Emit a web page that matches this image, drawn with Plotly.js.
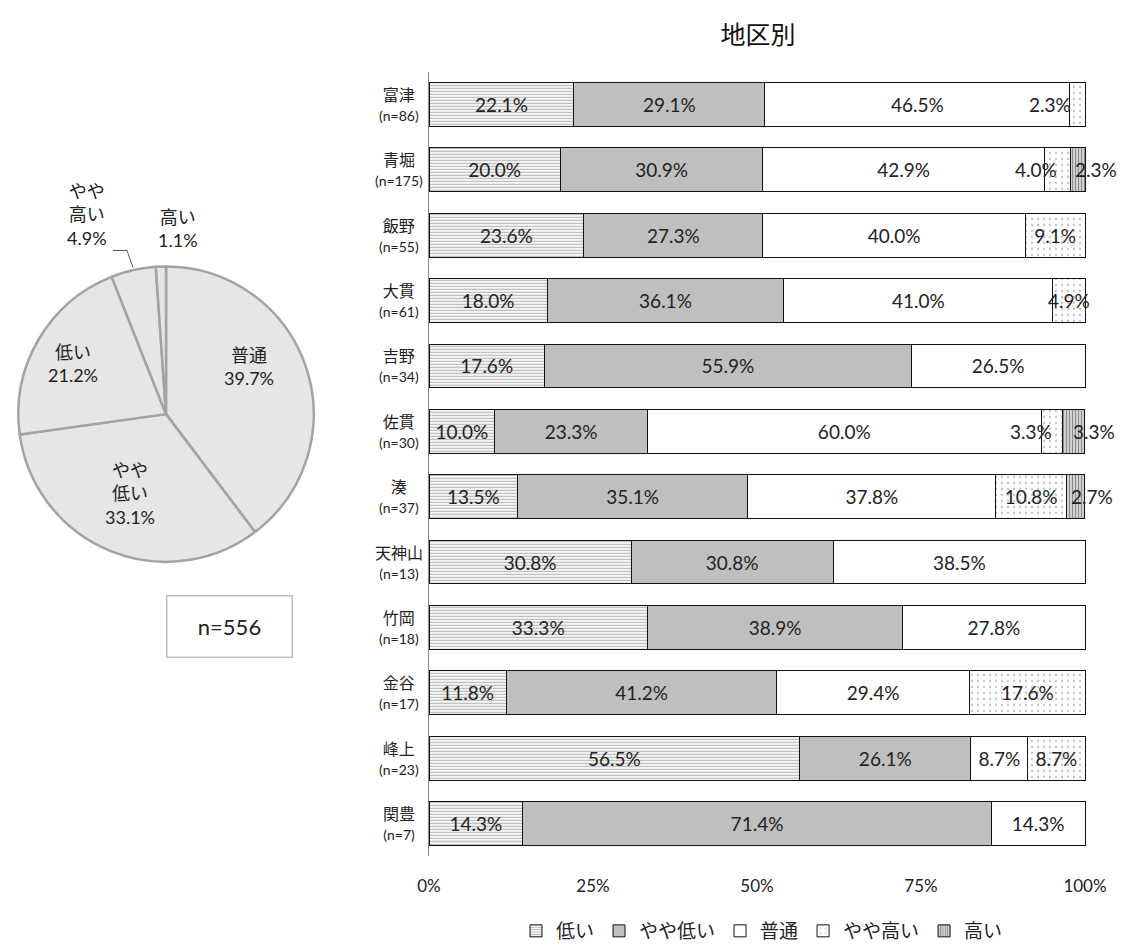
<!DOCTYPE html>
<html><head><meta charset="utf-8">
<script src="https://cdn.plot.ly/plotly-3.0.1.min.js"></script>
<style>html,body{margin:0;padding:0;background:#fff}#chart{width:1126px;height:950px}</style>
</head><body><div id="chart"></div>
<script>
// ---- data ----
const districts = ['富津','青堀','飯野','大貫','吉野','佐貫','湊','天神山','竹岡','金谷','峰上','関豊'];
const districtN = [86,175,55,61,34,30,37,13,18,17,23,7];
const seriesNames = ['低い','やや低い','普通','やや高い','高い'];
const lowVals      = [22.1,20.0,23.6,18.0,17.6,10.0,13.5,30.8,33.3,11.8,56.5,14.3];
const slightLowVals= [29.1,30.9,27.3,36.1,55.9,23.3,35.1,30.8,38.9,41.2,26.1,71.4];
const normalVals   = [46.5,42.9,40.0,41.0,26.5,60.0,37.8,38.5,27.8,29.4,8.7,14.3];
const slightHighVals=[2.3,4.0,9.1,4.9,0,3.3,10.8,0,0,17.6,8.7,0];
const highVals     = [0,2.3,0,0,0,3.3,2.7,0,0,0,0,0];
const xTicks = [0,25,50,75,100];
const xTickLabels = ['0%','25%','50%','75%','100%'];

const pieLabels = ['普通','やや低い','低い','やや高い','高い'];
const pieValues = [39.7,33.1,21.2,4.9,1.1];
const pieTexts  = ['普通<br>39.7%','やや<br>低い<br>33.1%','低い<br>21.2%','やや<br>高い<br>4.9%','高い<br>1.1%'];
const totalN = 556;

// ---- label nudges (pixels) for narrow segments, per series ----
const labelNudge = [
  [0,0,0,0,0,0,0,0,0,0,0,0],
  [0,0,0,0,0,0,0,0,0,0,0,0],
  [0,0,0,0,0,0,0,0,0,0,0,0],
  [-27,-21,0,0,0,-21,0,0,0,0,0,0],
  [0,18,0,0,0,20,17,0,0,0,0,0]
];

// ---- styles ----
const FONT = 'Lato, "Noto Sans CJK JP", sans-serif';
const W = 1126, H = 950;
const px = x => x / W, py = y => 1 - y / H;
const XMAX = 100.2; // small headroom so rounding totals (100.1%) stay inside the range

const styles = [
  {color:'#f2f2f2', pattern:{shape:'-', fgcolor:'#b8b8b8', bgcolor:'#f4f4f4', size:3, solidity:0.35}},
  {color:'#bfbfbf'},
  {color:'#ffffff'},
  {color:'#ffffff', pattern:{shape:'.', fgcolor:'#c4c4c4', bgcolor:'#ffffff', size:6, solidity:0.12}},
  {color:'#cfcfcf', pattern:{shape:'|', fgcolor:'#8a8a8a', bgcolor:'#d8d8d8', size:3, solidity:0.4}}
];
const allVals = [lowVals, slightLowVals, normalVals, slightHighVals, highVals];
const fmt = v => v.toFixed(1) + '%';

const traces = allVals.map((vals, i) => ({
  type:'bar', orientation:'h', name:seriesNames[i],
  x: vals, y: districts,
  xaxis:'x', yaxis:'y',
  width:0.67,
  text: vals.map((v,j) => (v > 0 && labelNudge[i][j] === 0) ? fmt(v) : ''),
  textposition:'inside', insidetextanchor:'middle', constraintext:'none', textangle:0,
  cliponaxis:false,
  textfont:{family:FONT, size:19, color:'#222'},
  marker: Object.assign({line:{color:'#111', width:1}}, styles[i]),
  hoverinfo:'skip'
}));

traces.push({
  type:'pie', labels:pieLabels, values:pieValues,
  sort:false, direction:'clockwise', rotation:0,
  textinfo:'none', showlegend:false, hoverinfo:'skip',
  domain:{x:[px(17), px(315)], y:[py(563), py(267)]},
  marker:{colors:pieLabels.map(()=>'#e6e6e6'), line:{color:'#a3a3a3', width:2.5}}
});

const annotations = [];
districts.forEach((d,j)=>{
  let cum = 0;
  allVals.forEach((vals,i)=>{
    const v = vals[j];
    if (v > 0 && labelNudge[i][j] !== 0) {
      annotations.push({xref:'x', yref:'y', x:cum + v/2, y:d, xshift:labelNudge[i][j],
        text:fmt(v), showarrow:false, xanchor:'center', yanchor:'middle',
        font:{family:FONT, size:19, color:'#222'}});
    }
    cum += v;
  });
});

const piePos = [[249,367],[130,495],[73,364],[87,215],[178,229]];
pieTexts.forEach((t,i)=>annotations.push({
  xref:'paper', yref:'paper', x:px(piePos[i][0]), y:py(piePos[i][1]),
  text:t, showarrow:false, xanchor:'center', yanchor:'middle', align:'center',
  font:{family:FONT, size:18, color:'#222'}
}));
annotations.push({
  xref:'paper', yref:'paper', x:px(229), y:py(628), xanchor:'center', yanchor:'middle',
  text:'n=' + totalN, showarrow:false, font:{family:FONT, size:22, color:'#222'},
  bordercolor:'#bdbdbd', borderwidth:1.5, borderpad:16, bgcolor:'#fff',
  width:92, height:28
});
districts.forEach((d,i)=>{
  annotations.push({
    xref:'paper', yref:'y', x:px(399), y:d, xanchor:'center', yanchor:'middle', align:'center',
    text:'<span style="font-size:16px">'+d+'</span><br><span style="font-size:14px">(n='+districtN[i]+')</span>',
    showarrow:false, font:{family:FONT, size:15, color:'#222'}
  });
});

const layout = {
  width:W, height:H, margin:{l:0,r:0,t:0,b:0},
  paper_bgcolor:'#fff', plot_bgcolor:'#fff',
  barmode:'stack',
  font:{family:FONT, color:'#222'},
  title:{text:'地区別', x:px(758), xanchor:'center', y:py(35), yanchor:'middle',
         font:{family:FONT, size:25, color:'#111'}},
  xaxis:{domain:[px(429), px(429 + 656 * XMAX / 100)], range:[0,XMAX], tickvals:xTicks, ticktext:xTickLabels,
         showgrid:false, zeroline:false, showline:false,
         ticks:'outside', ticklen:14, tickcolor:'rgba(0,0,0,0)',
         tickfont:{family:FONT, size:17, color:'#222'}, fixedrange:true},
  yaxis:{domain:[py(858), py(72)], type:'category', range:[11.5,-0.5],
         showticklabels:false, showgrid:false, zeroline:false,
         showline:true, linecolor:'#8c8c8c', linewidth:1.5, fixedrange:true},
  legend:{orientation:'h', x:px(762), xanchor:'center', y:py(933), yanchor:'middle',
          font:{family:FONT, size:19, color:'#222'}, traceorder:'normal', itemwidth:30},
  annotations:annotations,
  shapes:[{type:'path', xref:'paper', yref:'paper',
    path:`M ${px(113)} ${py(251)} L ${px(127)} ${py(251)} L ${px(133)} ${py(268)}`,
    line:{color:'#555', width:1}}],
  hovermode:false
};
Plotly.newPlot('chart', traces, layout, {displayModeBar:false, staticPlot:true});
</script></body></html>
